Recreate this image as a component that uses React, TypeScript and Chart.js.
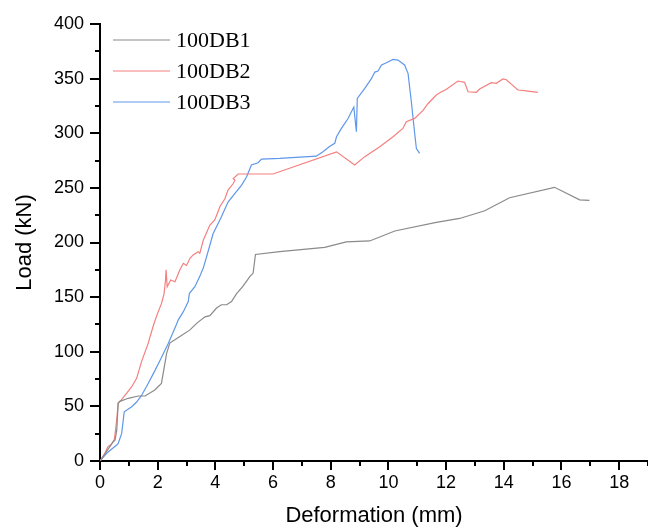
import React, { useEffect, useRef } from "react";
import { Chart, registerables } from "chart.js";

Chart.register(...registerables);

const seriesNames = ["100DB1", "100DB2", "100DB3"];
const seriesColors = ["#8a8a8a", "#f47f7f", "#5f97ea"];

const db1Deformation = [0, 0.46, 0.52, 0.58, 0.63, 0.69, 0.98, 1.33, 1.56, 1.9, 2.13, 2.31, 2.42, 2.77, 3.12, 3.35, 3.64, 3.81, 4.04, 4.21, 4.39, 4.56, 4.73, 4.96, 5.2, 5.31, 5.39, 6.23, 7.79, 8.54, 9.35, 10.22, 11.66, 12.47, 13.34, 14.2, 15.76, 16.63, 16.97];
const db1Load = [0, 17.7, 19, 28, 53, 54.6, 57.4, 59.5, 59.5, 65, 71, 98.6, 108, 114, 120, 126, 132, 133, 140, 143, 143, 146, 153, 160, 169, 172, 189, 191.6, 195.6, 200.5, 201.4, 210.5, 218.5, 222, 229, 241, 250.5, 239, 238.6];

const db2Deformation = [0, 0.17, 0.27, 0.4, 0.5, 0.58, 0.63, 0.73, 0.92, 1.1, 1.27, 1.44, 1.67, 1.85, 1.98, 2.13, 2.22, 2.27, 2.29, 2.33, 2.45, 2.6, 2.77, 2.89, 3.0, 3.12, 3.23, 3.4, 3.46, 3.58, 3.81, 3.98, 4.16, 4.33, 4.44, 4.62, 4.68, 4.62, 4.79, 6.0, 8.2, 8.83, 9.18, 9.7, 10.16, 10.5, 10.62, 10.91, 11.2, 11.37, 11.66, 11.78, 12.0, 12.41, 12.64, 12.76, 13.05, 13.16, 13.57, 13.74, 13.97, 14.09, 14.26, 14.49, 14.78, 15.18];
const db2Load = [0, 7, 13, 15.6, 19.8, 37.5, 52.8, 55.8, 62, 68, 75.7, 91, 107.7, 124, 134, 144, 153, 165, 175, 159.5, 165.7, 164, 175, 181, 179, 185.5, 188.6, 191.6, 190, 202, 216, 220.6, 233, 240, 248, 254, 257, 258.5, 262.7, 262.7, 283, 271, 278.6, 287.7, 296.8, 304.4, 310.6, 313.6, 321, 327, 335, 337, 340, 347.8, 346.6, 338, 337.5, 340.5, 346.3, 345.7, 349.7, 349, 345, 339.6, 338.7, 337.5];

const db3Deformation = [0, 0.23, 0.29, 0.58, 0.63, 0.75, 0.84, 1.1, 1.27, 1.44, 1.67, 1.85, 2.08, 2.37, 2.65, 2.71, 2.89, 3.06, 3.1, 3.29, 3.46, 3.58, 3.75, 3.92, 4.21, 4.44, 4.68, 4.91, 5.08, 5.25, 5.48, 5.6, 6.23, 7.5, 7.73, 7.97, 8.14, 8.2, 8.37, 8.6, 8.8, 8.89, 8.92, 9.18, 9.41, 9.53, 9.64, 9.76, 9.93, 10.16, 10.33, 10.56, 10.68, 10.79, 10.91, 10.97, 11.08];
const db3Load = [0, 7, 8.5, 14.6, 16, 25, 45, 49.7, 54, 60, 71, 80, 92, 107.7, 125, 129, 136.7, 146, 153.5, 159.5, 169, 176.6, 192, 208, 223.6, 237, 245, 252.6, 260, 271, 273, 276.4, 277, 279, 283, 288, 290.8, 296.8, 304.4, 313.5, 324, 301.4, 331.8, 341, 350, 356, 357, 362.5, 364.6, 367.6, 367, 362.5, 354.8, 330, 300, 286, 281.6];

const xTicks = [0, 2, 4, 6, 8, 10, 12, 14, 16, 18];
const yTicks = [0, 50, 100, 150, 200, 250, 300, 350, 400];
const xTitle = "Deformation (mm)";
const yTitle = "Load (kN)";

const toPoints = (xs: number[], ys: number[]) => xs.map((x, i) => ({ x, y: ys[i] }));

const minorTicksPlugin = {
  id: "minorTicks",
  afterDraw(chart: any) {
    const { ctx, scales } = chart;
    const xs = scales.x;
    const ys = scales.y;
    ctx.save();
    ctx.strokeStyle = "#000";
    ctx.lineWidth = 2;
    for (let v = 0; v <= 19; v += 1) {
      const px = Math.round(xs.getPixelForValue(v));
      const len = v % 2 === 0 ? 9 : 5;
      ctx.beginPath();
      ctx.moveTo(px, xs.top);
      ctx.lineTo(px, xs.top + len);
      ctx.stroke();
    }
    for (let v = 0; v <= 400; v += 25) {
      const py = Math.round(ys.getPixelForValue(v));
      const len = v % 50 === 0 ? 10 : 5;
      ctx.beginPath();
      ctx.moveTo(ys.right - len, py);
      ctx.lineTo(ys.right, py);
      ctx.stroke();
    }
    ctx.restore();
  },
};

const legendPlugin = {
  id: "insideLegend",
  afterDraw(chart: any) {
    const { ctx } = chart;
    ctx.save();
    chart.data.datasets.forEach((ds: any, i: number) => {
      const y = 40 + 31 * i;
      ctx.strokeStyle = ds.borderColor;
      ctx.lineWidth = 1.2;
      ctx.beginPath();
      ctx.moveTo(113, y);
      ctx.lineTo(170, y);
      ctx.stroke();
      ctx.fillStyle = "#000";
      ctx.font = '22px "Liberation Serif"';
      ctx.textBaseline = "middle";
      ctx.textAlign = "left";
      ctx.fillText(ds.label, 176, y + 1);
    });
    ctx.restore();
  },
};

export default function App() {
  const ref = useRef<HTMLCanvasElement | null>(null);
  useEffect(() => {
    if (!ref.current) return;
    const datasets = [
      toPoints(db1Deformation, db1Load),
      toPoints(db2Deformation, db2Load),
      toPoints(db3Deformation, db3Load),
    ].map((data, i) => ({
      label: seriesNames[i],
      data,
      borderColor: seriesColors[i],
      backgroundColor: seriesColors[i],
      borderWidth: 1.2,
      pointRadius: 0,
      tension: 0,
      fill: false,
    }));
    const chart = new Chart(ref.current, {
      type: "line",
      data: { datasets },
      plugins: [minorTicksPlugin, legendPlugin],
      options: {
        animation: false,
        responsive: false,
        devicePixelRatio: 1,
        layout: { padding: { top: 24, right: 0, left: 0, bottom: 0 } },
        plugins: { legend: { display: false }, tooltip: { enabled: false } },
        scales: {
          x: {
            type: "linear",
            min: 0,
            max: 19,
            afterBuildTicks: (s: any) => {
              s.ticks = xTicks.map((v) => ({ value: v }));
            },
            afterFit: (s: any) => {
              s.height = 68;
            },
            grid: { display: false },
            border: { display: true, color: "#000", width: 2 },
            ticks: {
              color: "#000",
              font: { family: '"Liberation Sans", Arial', size: 18 },
              padding: 3,
              maxRotation: 0,
              autoSkip: false,
            },
            title: {
              display: true,
              text: xTitle,
              color: "#000",
              font: { family: '"Liberation Sans", Arial', size: 22 },
              padding: { top: 0, bottom: 0 },
            },
          },
          y: {
            type: "linear",
            min: 0,
            max: 400,
            afterBuildTicks: (s: any) => {
              s.ticks = yTicks.map((v) => ({ value: v }));
            },
            afterFit: (s: any) => {
              s.width = 100;
            },
            grid: { display: false },
            border: { display: true, color: "#000", width: 2 },
            ticks: {
              color: "#000",
              font: { family: '"Liberation Sans", Arial', size: 18 },
              padding: 8,
            },
            title: {
              display: true,
              text: yTitle,
              color: "#000",
              font: { family: '"Liberation Sans", Arial', size: 22 },
              padding: { top: 12, bottom: 0 },
            },
          },
        },
      },
    });
    return () => chart.destroy();
  }, []);
  return (
    <div style={{ position: "fixed", left: 0, top: 0, width: 648, height: 529, background: "#fff" }}>
      <canvas ref={ref} width={648} height={529} style={{ display: "block" }} />
    </div>
  );
}
